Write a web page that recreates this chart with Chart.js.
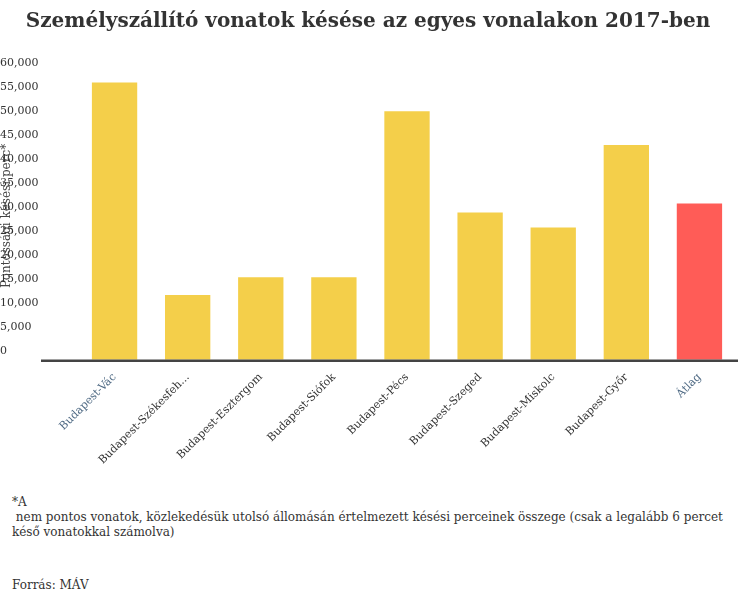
<!DOCTYPE html>
<html>
<head>
<meta charset="utf-8">
<script src="https://cdn.jsdelivr.net/npm/chart.js@4.4.0/dist/chart.umd.min.js"></script>
<style>
  body { margin: 0; background: #fff; font-family: 'DejaVu Serif', serif; }
  #wrap { position: relative; width: 753px; height: 470px; }
  .note { position: absolute; left: 12px; font-size: 12px; color: #333; line-height: 15px; }
</style>
</head>
<body>
<div id="wrap"><canvas id="chart"></canvas></div>
<div class="note" style="top:495px">*A<br>&nbsp;nem pontos vonatok, közlekedésük utolsó állomásán értelmezett késési perceinek összege (csak a legalább 6 percet késő vonatokkal számolva)</div>
<div class="note" style="top:578px">Forrás: MÁV</div>
<script>
// Adatok
const categories = ['Budapest-Vác', 'Budapest-Székesfeh...', 'Budapest-Esztergom', 'Budapest-Siófok',
    'Budapest-Pécs', 'Budapest-Szeged', 'Budapest-Miskolc', 'Budapest-Győr', 'Átlag'];
const delayMinutes = [57800, 13500, 17200, 17200, 51800, 30700, 27600, 44800, 32600];
const barColors = ['#f4cf4a', '#f4cf4a', '#f4cf4a', '#f4cf4a', '#f4cf4a', '#f4cf4a', '#f4cf4a', '#f4cf4a', '#ff5c57'];
const labelColors = ['#4f6a84', '#333', '#333', '#333', '#333', '#333', '#333', '#333', '#4f6a84'];

// Vastag alapvonal a 0-nál
const baseline = {
    id: 'baseline',
    afterDatasetsDraw(chart) {
        const ctx = chart.ctx;
        const y = chart.scales.y.getPixelForValue(0);
        ctx.save();
        ctx.strokeStyle = '#444';
        ctx.lineWidth = 2.5;
        ctx.beginPath();
        ctx.moveTo(41, y + 1);
        ctx.lineTo(738, y + 1);
        ctx.stroke();
        ctx.restore();
    }
};

new Chart(document.getElementById('chart'), {
    type: 'bar',
    data: {
        labels: categories,
        datasets: [{
            data: delayMinutes,
            backgroundColor: barColors,
            barPercentage: 0.62,
            categoryPercentage: 1
        }]
    },
    options: {
        responsive: true,
        maintainAspectRatio: false,
        animation: false,
        layout: { padding: { left: 0, right: 17, top: 0, bottom: 0 } },
        plugins: {
            legend: { display: false },
            tooltip: { enabled: false },
            title: {
                display: true,
                text: 'Személyszállító vonatok késése az egyes vonalakon 2017-ben',
                color: '#333',
                font: { family: 'DejaVu Serif', size: 20, weight: 'bold' },
                padding: { top: 10, bottom: 38 }
            }
        },
        scales: {
            x: {
                grid: { display: false },
                border: { display: false },
                ticks: {
                    maxRotation: 45, minRotation: 45, autoSkip: false,
                    color: labelColors,
                    font: { family: 'DejaVu Serif', size: 11 }
                }
            },
            y: {
                min: 0, max: 60000,
                afterFit(scale) { scale.width = 78; },
                grid: { display: false },
                border: { display: false },
                title: {
                    display: true,
                    text: 'Pontossági késési perc*',
                    color: '#444',
                    font: { family: 'DejaVu Serif', size: 12 },
                    padding: 0
                },
                ticks: {
                    stepSize: 5000,
                    crossAlign: 'far',
                    labelOffset: -9,
                    color: '#333',
                    font: { family: 'DejaVu Serif', size: 11 }
                }
            }
        }
    },
    plugins: [baseline]
});
</script>
</body>
</html>
